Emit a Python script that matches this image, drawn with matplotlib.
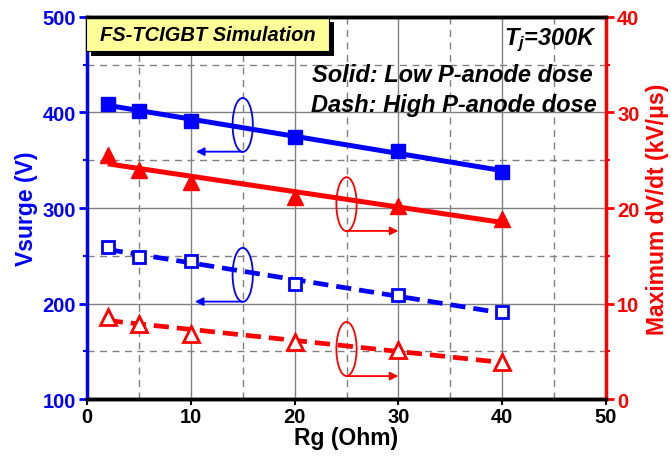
import numpy as np
import matplotlib
matplotlib.use("Agg")
from matplotlib import pyplot as plt
from matplotlib.patches import Ellipse, Rectangle
from matplotlib.ticker import MultipleLocator

plt.rcParams['font.family'] = ['Liberation Sans', 'DejaVu Sans']
plt.rcParams['font.weight'] = 'bold'
plt.rcParams['mathtext.fontset'] = 'custom'
plt.rcParams['mathtext.it'] = 'Liberation Sans:bold:italic'
plt.rcParams['mathtext.rm'] = 'Liberation Sans:bold:italic'

# Data
rg = [2, 5, 10, 20, 30, 40]
vsurge_low = [409, 402, 391, 374, 360, 338]
vsurge_high = [259, 249, 245, 220, 209, 191]
dvdt_low = [25.5, 24.0, 22.7, 21.2, 20.2, 18.8]
dvdt_high = [8.6, 7.9, 6.8, 6.0, 5.1, 3.9]

BLUE = "#0000ff"
RED = "#ff0000"
GRID = "#808080"

fig = plt.figure(figsize=(6.71, 4.60), dpi=100)
ax = fig.add_axes([0.1297, 0.1304, 0.7734, 0.8305])
ax2 = ax.twinx()

ax.set_xlim(0, 50)
ax.set_ylim(100, 500)
ax2.set_ylim(0, 40)

# Grid: solid on major, dashed on minor
ax.xaxis.set_major_locator(MultipleLocator(10))
ax.xaxis.set_minor_locator(MultipleLocator(5))
ax.yaxis.set_major_locator(MultipleLocator(100))
ax.yaxis.set_minor_locator(MultipleLocator(50))
ax2.yaxis.set_major_locator(MultipleLocator(10))
ax2.yaxis.set_minor_locator(MultipleLocator(5))
ax.grid(which="major", color=GRID, linestyle="-", linewidth=1.0)
ax.grid(which="minor", color=GRID, linestyle=(0, (5, 4)), linewidth=1.0)
ax.set_axisbelow(True)

x = np.array(rg)
xf = np.array([rg[0], rg[-1]])

def fit(y):
    p = np.polyfit(x, y, 1)
    return np.polyval(p, xf)

# Vsurge (left axis)
ax.plot(xf, fit(vsurge_low), color=BLUE, lw=3.6, solid_capstyle="butt")
ax.plot(xf, fit(vsurge_high), color=BLUE, lw=3.4, linestyle=(0, (3.2, 1.7)))
ax.plot(x, vsurge_low, "s", color=BLUE, ms=10, zorder=3)
ax.plot(x, vsurge_high, "s", mfc="white", mec=BLUE, mew=2, ms=9, zorder=3)

# dV/dt (right axis)
ax2.plot(xf, fit(dvdt_low), color=RED, lw=3.6, solid_capstyle="butt")
ax2.plot(xf, fit(dvdt_high), color=RED, lw=3.4, linestyle=(0, (3.2, 1.7)))
ax2.plot(x, dvdt_low, "^", color=RED, ms=12, zorder=3)
ax2.plot(x, dvdt_high, "^", mfc="white", mec=RED, mew=2, ms=11, zorder=3)

# Ellipses + arrows pointing to the corresponding axis
for e_ax, cx, cy, h, ay, tx, col in [
        (ax, 15, 387, 56.5, 359, 10.5, BLUE),
        (ax, 15, 230, 56.5, 202, 10.4, BLUE),
        (ax2, 25, 20.4, 5.65, 17.6, 30, RED),
        (ax2, 25, 5.24, 5.65, 2.4, 30, RED)]:
    e_ax.add_patch(Ellipse((cx, cy), 1.95, h, fill=False, edgecolor=col, lw=1.3, zorder=4))
    e_ax.annotate("", xy=(tx, ay), xytext=(cx, ay),
                  arrowprops=dict(arrowstyle="-|>", color=col, lw=1.3,
                                  mutation_scale=12, shrinkA=0, shrinkB=0))

# Spines
for s in ["top", "bottom"]:
    ax.spines[s].set_linewidth(2.5)
    ax2.spines[s].set_linewidth(2.5)
ax.spines["left"].set_color(BLUE)
ax.spines["left"].set_linewidth(2.5)
ax2.spines["left"].set_visible(False)
ax2.spines["right"].set_color(RED)
ax2.spines["right"].set_linewidth(2.5)
ax.spines["right"].set_visible(False)

# Ticks
ax.tick_params(axis="y", which="major", colors=BLUE, labelsize=14.5, length=6, width=2, direction="out", pad=2)
ax.tick_params(axis="y", which="minor", colors=BLUE, length=3, width=1.5, direction="out")
ax2.tick_params(axis="y", which="major", colors=RED, labelsize=14.5, length=6, width=2, direction="out", pad=2)
ax2.tick_params(axis="y", which="minor", colors=RED, length=3, width=1.5, direction="out")
ax.tick_params(axis="x", which="major", labelsize=14.5, length=4, width=1.5, direction="out", pad=2)
ax.tick_params(axis="x", which="minor", length=0)

ax.set_xlabel("Rg (Ohm)", fontsize=16.5, fontweight="bold", labelpad=0)
ax.set_ylabel("Vsurge (V)", fontsize=16.5, fontweight="bold", color=BLUE, labelpad=3)
ax2.set_ylabel("Maximum dV/dt (kV/\u03bcs)", fontsize=16.5, fontweight="bold", color=RED,
               rotation=90, labelpad=5)

# Title box with shadow
ax.add_patch(Rectangle((0.0077, 0.898), 0.468, 0.089, transform=ax.transAxes,
                       facecolor="black", edgecolor="none", clip_on=False, zorder=5))
ax.add_patch(Rectangle((-0.002, 0.911), 0.468, 0.089, transform=ax.transAxes,
                       facecolor="#ffff99", edgecolor="black", lw=0.8, clip_on=False, zorder=6))
ax.text(0.232, 0.955, "FS-TCIGBT Simulation", transform=ax.transAxes, ha="center", va="center",
        fontsize=14.5, fontweight="bold", style="italic", zorder=7)

ax.text(0.983, 0.929, r"$T_j$=300K", transform=ax.transAxes, ha="right", va="baseline",
        fontsize=17, fontweight="bold", style="italic", zorder=7)
ax.text(0.975, 0.832, "Solid: Low P-anode dose", transform=ax.transAxes, ha="right", va="baseline",
        fontsize=17, fontweight="bold", style="italic", zorder=7)
ax.text(0.983, 0.754, "Dash: High P-anode dose", transform=ax.transAxes, ha="right", va="baseline",
        fontsize=17, fontweight="bold", style="italic", zorder=7)

fig.savefig("out.png", dpi=100)
